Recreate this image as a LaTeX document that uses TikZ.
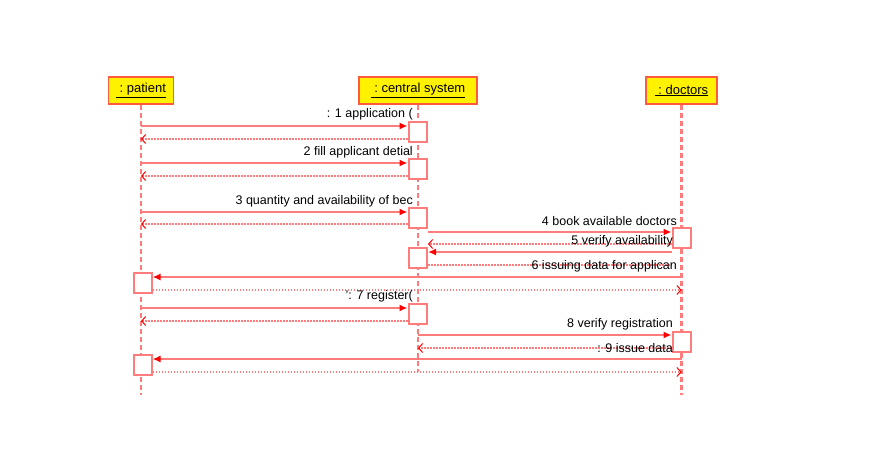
\documentclass[tikz,border=0pt]{standalone}
\usepackage{fontspec}
\setmainfont{Liberation Sans}
\usetikzlibrary{arrows.meta}
\definecolor{seqline}{HTML}{FF7C7C}
\definecolor{seqhead}{HTML}{FF5A3C}
\tikzset{
  actor/.style={draw=seqhead, line width=1.8pt, fill=yellow, inner sep=0pt,
    minimum height=27pt, font=\fontsize{13}{15}\selectfont},
  lifeline/.style={draw=seqline, line width=2.2pt, dash pattern=on 5pt off 3pt},
  act/.style={draw=seqline, line width=2pt, fill=white, inner sep=0pt,
    minimum width=18pt, minimum height=20pt},
  msg/.style={draw=seqline, line width=2pt, -{Latex[red,length=8pt,width=7pt]}},
  ret/.style={draw=seqline, line width=1.6pt, dash pattern=on 1.5pt off 1.5pt,
    -{Straight Barb[red,length=4pt,width=9pt,line width=1pt]}},
  retplain/.style={draw=seqline, line width=1.6pt, dash pattern=on 1.5pt off 1.5pt},
  lbl/.style={anchor=east, inner sep=0pt, font=\fontsize{12.5}{15}\selectfont}
}
\begin{document}
\begin{tikzpicture}[x=1pt,y=-1pt]
  \useasboundingbox (0,0) rectangle (879,466);
  % heads
  \node[actor, minimum width=65pt] (pat) at (141,90.5) {\underline{~:~patient}};
  \node[actor, minimum width=118pt] (cen) at (418,90.5) {\underline{~:~central system}};
  \node[actor, minimum width=71pt] (doc) at (681.5,90.5) {\underline{~:~doctors}};

  % lifelines
  \draw[lifeline] (pat.south) -- (pat |- 0,395);
  \draw[lifeline] (cen.south) -- (cen |- 0,372);
  \draw[lifeline] (doc.south) -- (doc |- 0,395);

  % messages
  \node[act] (a1) at (417.5,132) {};
  \draw[msg] (pat |- 0,126) -- (a1.west |- 0,126);
  \draw[ret] (a1.west |- 0,139) -- (pat |- 0,139);
  \node[lbl] (m1) at (413,114) {: 1 application (};

  \node[act] (a2) at (417.5,168.5) {};
  \draw[msg] (pat |- 0,163) -- (a2.west |- 0,163);
  \draw[ret] (a2.west |- 0,176) -- (pat |- 0,176);
  \node[lbl] (m2) at (413,152) {2 fill applicant detial};

  \node[act] (a3) at (417.5,217.5) {};
  \draw[msg] (pat |- 0,212) -- (a3.west |- 0,212);
  \draw[ret] (a3.west |- 0,224) -- (pat |- 0,224);
  \node[lbl] (m3) at (413,201) {3 quantity and availability of bec};

  \node[act] (d1) at (681.5,238) {};
  \node[act] (a4) at (418,257.5) {};
  \draw[msg] (a3.east |- 0,232) -- (d1.west |- 0,232);
  \node[lbl] (m4) at (677,221) {4 book available doctors};
  \draw[ret] (d1.west |- 0,244) -- (a4.east |- 0,244);
  \node[lbl] (m5) at (673,241) {5 verify availability};
  \draw[msg] (d1.west |- 0,252) -- (a4.east |- 0,252);
  \draw[retplain] (a4.east |- 0,265) -- (d1.west |- 0,265);
  \node[lbl] (m6) at (677,266) {6 issuing data for applican};

  \node[act] (p1) at (142.5,283) {};
  \draw[msg] (doc |- 0,277) -- (p1.east |- 0,277);
  \draw[ret] (p1.east |- 0,290) -- (doc |- 0,290);

  \node[act] (a5) at (417.5,313.5) {};
  \draw[msg] (pat |- 0,308) -- (a5.west |- 0,308);
  \draw[ret] (a5.west |- 0,321) -- (pat |- 0,321);
  \node[lbl] (m7) at (413,296) {': 7 register(};

  \node[act] (d2) at (681.5,342) {};
  \draw[msg] (cen |- 0,335) -- (d2.west |- 0,335);
  \node[lbl] (m8) at (673,324) {8 verify registration};
  \draw[ret] (d2.west |- 0,348) -- (cen |- 0,348);
  \node[lbl] (m9) at (673,348) {: 9 issue data};

  \node[act] (p2) at (142.5,364.5) {};
  \draw[msg] (doc |- 0,359) -- (p2.east |- 0,359);
  \draw[ret] (p2.east |- 0,372) -- (doc |- 0,372);
\end{tikzpicture}
\end{document}
